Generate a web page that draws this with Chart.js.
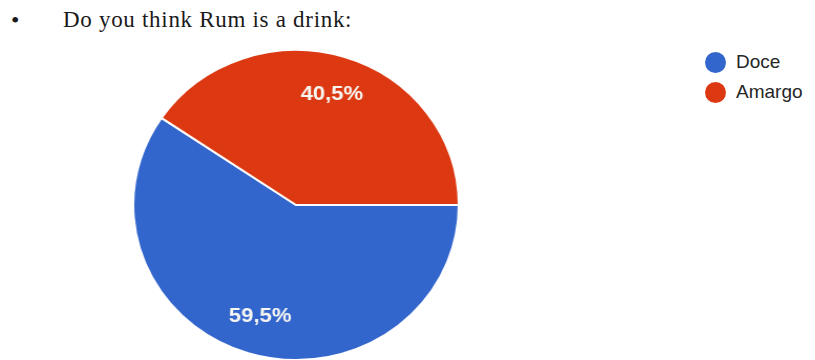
<!DOCTYPE html>
<html>
<head>
<meta charset="utf-8">
<script src="https://cdn.jsdelivr.net/npm/chart.js@4"></script>
<style>
  html, body { margin: 0; padding: 0; background: #fff; }
  body { width: 815px; height: 360px; position: relative; overflow: hidden; }
  #bullet { position: absolute; left: 11px; top: 7px; font: 24px 'Liberation Serif', serif; color: #1a1a1a; }
  #title { position: absolute; left: 63px; top: 7px; font: 23px 'Liberation Serif', serif; letter-spacing: 0.7px; color: #1a1a1a; white-space: nowrap; }
  #pieBox { position: absolute; left: 140px; top: 49px; width: 312px; height: 312px; transform: scaleX(1.05); transform-origin: 50% 50%; }
  #legend { position: absolute; left: 705px; top: 47px; margin: 0; padding: 0; list-style: none; }
  #legend li { display: flex; align-items: center; height: 30px; font: 19px 'Liberation Sans', Arial, sans-serif; color: #262626; }
  #legend .dot { width: 21px; height: 21px; border-radius: 50%; margin-right: 10px; }
</style>
</head>
<body>
<div id="bullet">•</div>
<div id="title">Do you think Rum is a drink:</div>
<div id="pieBox"><canvas id="pie"></canvas></div>
<ul id="legend"></ul>
<script>
// ===================== DATA =====================
const CATEGORIES = ['Doce', 'Amargo'];
const SHARES = [59.5, 40.5];
const SLICE_COLORS = ['#3366cc', '#dc3912'];

const fmtPct = v => v.toFixed(1).replace('.', ',') + '%';

// percentage text inside each slice, like Google Forms
const sliceLabels = {
  id: 'sliceLabels',
  afterDatasetsDraw(chart) {
    const ctx = chart.ctx;
    const meta = chart.getDatasetMeta(0);
    ctx.save();
    ctx.font = 'bold 21px "Liberation Sans", Arial, sans-serif';
    ctx.fillStyle = '#f7f7f2';
    ctx.textAlign = 'center';
    ctx.textBaseline = 'middle';
    meta.data.forEach((arc, i) => {
      const { x, y, startAngle, endAngle, outerRadius } =
        arc.getProps(['x', 'y', 'startAngle', 'endAngle', 'outerRadius'], true);
      const mid = (startAngle + endAngle) / 2;
      const r = outerRadius * 0.75;
      ctx.fillText(fmtPct(SHARES[i]), x + Math.cos(mid) * r, y + Math.sin(mid) * r);
    });
    ctx.restore();
  }
};

// legend built from the chart's own generated labels
function buildLegend(chart) {
  const ul = document.getElementById('legend');
  const items = chart.options.plugins.legend.labels.generateLabels(chart);
  items.forEach(item => {
    const li = document.createElement('li');
    li.innerHTML = `<span class="dot" style="background:${item.fillStyle}"></span>${item.text}`;
    ul.appendChild(li);
  });
}

const pie = new Chart(document.getElementById('pie'), {
  type: 'pie',
  data: {
    labels: CATEGORIES,
    datasets: [{
      data: SHARES,
      backgroundColor: SLICE_COLORS,
      borderColor: '#ffffff',
      borderWidth: 2,
    }]
  },
  options: {
    responsive: true,
    maintainAspectRatio: false,
    animation: false,
    rotation: 90,
    layout: { padding: 0 },
    plugins: {
      legend: { display: false },
      tooltip: { enabled: false },
    }
  },
  plugins: [sliceLabels]
});

buildLegend(pie);
</script>
</body>
</html>
